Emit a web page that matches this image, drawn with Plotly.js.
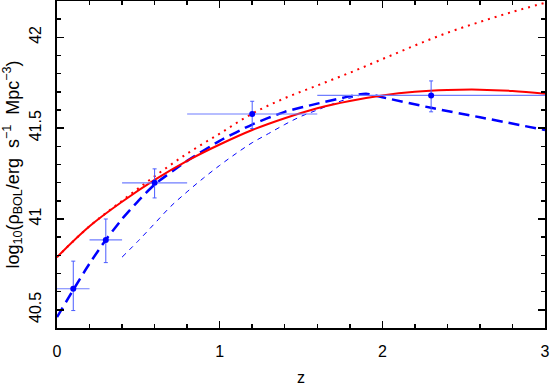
<!DOCTYPE html>
<html>
<head>
<meta charset="utf-8">
<script src="https://cdn.plot.ly/plotly-3.0.1.min.js"></script>
<style>
  html, body { margin: 0; padding: 0; background: #fff; }
  #graph { width: 551px; height: 386px; }
</style>
</head>
<body>
<div id="graph"></div>
<script>
// data points with errors
const zObs = [0.1, 0.3, 0.6, 1.2, 2.3];
const rhoObs = [40.616, 40.885, 41.199, 41.578, 41.68];
const rhoErrUp = [0.152, 0.115, 0.077, 0.07, 0.08];
const rhoErrDown = [0.12, 0.125, 0.083, 0.08, 0.09];
const zErr = [0.1, 0.1, 0.2, 0.4, 0.7];

// red solid model
const zRed = [0, 0.2, 0.4, 0.6, 0.8, 1.0, 1.2, 1.4, 1.6, 1.8, 2.0, 2.2, 2.4, 2.6, 2.8, 3.0];
const rhoRed = [40.79, 40.96, 41.095, 41.215, 41.32, 41.41, 41.49, 41.555, 41.61, 41.65, 41.68, 41.70, 41.71, 41.712, 41.705, 41.69];

// red dotted model
const zRedDot = [0, 0.2, 0.4, 0.6, 0.8, 1.0, 1.2, 1.4, 1.6, 1.8, 2.0, 2.2, 2.4, 2.6, 2.8, 3.0];
const rhoRedDot = [40.79, 40.96, 41.1, 41.235, 41.36, 41.47, 41.58, 41.665, 41.735, 41.805, 41.88, 41.955, 42.025, 42.085, 42.14, 42.19];

// blue thick dashed model
const zBlue = [0, 0.1, 0.2, 0.3, 0.4, 0.5, 0.6, 0.8, 1.0, 1.2, 1.4, 1.6, 1.8, 1.9, 2.0, 2.3, 2.6, 3.0];
const rhoBlue = [40.46, 40.61, 40.755, 40.885, 41.0, 41.1, 41.19, 41.32, 41.43, 41.52, 41.59, 41.635, 41.675, 41.69, 41.67, 41.612, 41.56, 41.49];

// blue thin dashed model
const zBlueThin = [0.4, 0.5, 0.6, 0.7, 0.8, 0.9, 1.0, 1.1, 1.2, 1.3, 1.4, 1.5, 1.6, 1.7, 1.8, 1.9];
const rhoBlueThin = [40.79, 40.88, 40.975, 41.07, 41.15, 41.225, 41.295, 41.36, 41.42, 41.47, 41.52, 41.565, 41.60, 41.635, 41.665, 41.69];

const font = { family: 'Liberation Sans, Arial, sans-serif', size: 16, color: '#000' };

const traces = [
    {
        x: zBlueThin, y: rhoBlueThin, mode: 'lines', type: 'scatter',
        line: { color: '#0000ff', width: 1, dash: '5px,5px', shape: 'spline' }
    },
    {
        x: zRedDot, y: rhoRedDot, mode: 'lines', type: 'scatter',
        line: { color: '#ff0000', width: 2, dash: '2px,5px', shape: 'spline' }
    },
    {
        x: zBlue, y: rhoBlue, mode: 'lines', type: 'scatter',
        line: { color: '#0000ff', width: 2.5, dash: '11px,6px', shape: 'spline', smoothing: 0.6 }
    },
    {
        x: zRed, y: rhoRed, mode: 'lines', type: 'scatter',
        line: { color: '#ff0000', width: 2, shape: 'spline' }
    },
    {
        x: zObs, y: rhoObs, mode: 'markers', type: 'scatter',
        marker: { color: '#0000ff', size: 6 },
        error_y: { type: 'data', symmetric: false, array: rhoErrUp, arrayminus: rhoErrDown,
                   color: '#4a5cff', thickness: 1, width: 2 },
        error_x: { type: 'data', array: zErr, color: '#6f7dff', thickness: 1.2, width: 0 }
    }
];

const layout = {
    width: 551,
    height: 386,
    margin: { l: 56.5, r: 5.5, t: 1, b: 58 },
    paper_bgcolor: '#fff',
    plot_bgcolor: '#fff',
    showlegend: false,
    font: font,
    xaxis: {
        range: [0, 3],
        tickvals: [0, 1, 2, 3],
        ticktext: ['0', '1', '2', '3'],
        ticks: 'inside', ticklen: 7, tickwidth: 1.5, tickcolor: '#000',
        minor: { ticks: 'inside', ticklen: 4, tickwidth: 1.5, tickcolor: '#000', dtick: 0.2, tick0: 0 },
        showline: true, linecolor: '#000', linewidth: 2, mirror: 'allticks',
        showgrid: false, zeroline: false,
        ticklabelstandoff: 8,
        title: { text: 'z', font: font, standoff: 14 }
    },
    yaxis: {
        range: [40.4, 42.2],
        tickvals: [40.5, 41, 41.5, 42],
        ticktext: ['40.5', '41', '41.5', '42'],
        tickangle: -90,
        ticks: 'inside', ticklen: 7, tickwidth: 1.5, tickcolor: '#000',
        minor: { ticks: 'inside', ticklen: 4, tickwidth: 1.5, tickcolor: '#000', dtick: 0.1, tick0: 40.4 },
        showline: true, linecolor: '#000', linewidth: 2, mirror: 'allticks',
        showgrid: false, zeroline: false,
        ticklabelstandoff: 8,
        title: {
            text: 'log<sub>10</sub>(ρ<sub>BOL</sub>/erg&nbsp;&nbsp;s<sup>−1</sup>&nbsp;&nbsp;Mpc<sup>−3</sup>)',
            font: { family: font.family, size: 18, color: '#000' },
            standoff: 9
        }
    }
};

Plotly.newPlot('graph', traces, layout, { staticPlot: true }).catch((error) => {
    console.error('Error plotting the graph:', error);
});
</script>
</body>
</html>
